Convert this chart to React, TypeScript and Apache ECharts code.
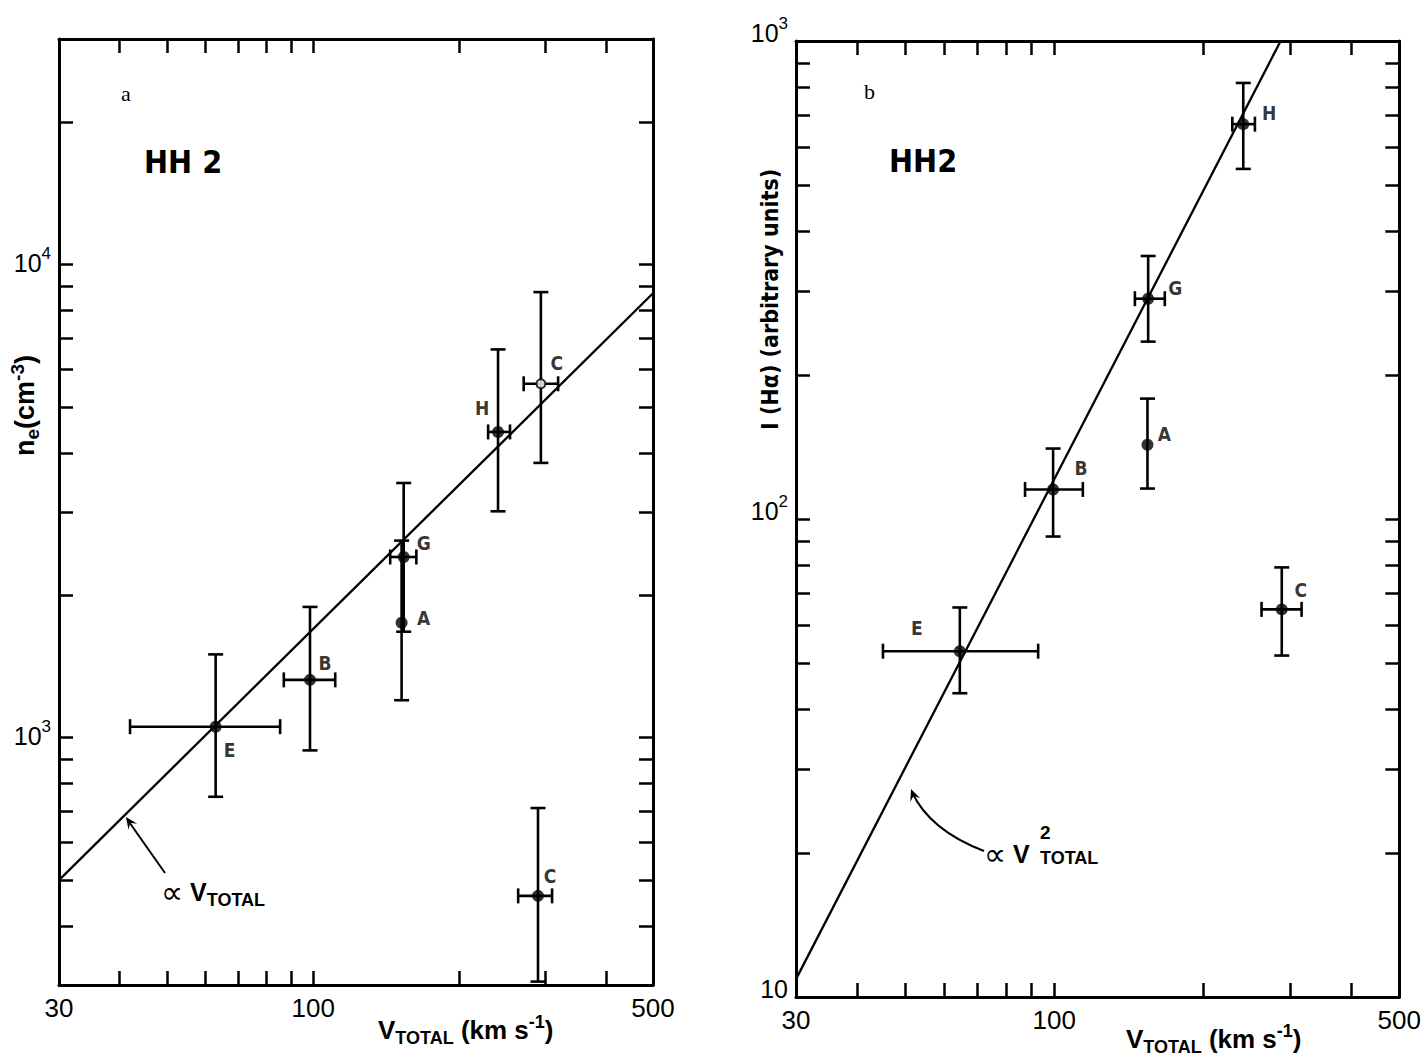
import React, { useEffect, useRef } from "react";
import * as echarts from "echarts";

// ---------- Panel a : electron density vs total velocity ----------
const knotsA = ["E", "B", "A", "G", "H", "C", "C"];
const vA = [63, 98.5, 152, 153.5, 240, 294, 290];
const vLoA = [42, 87, null, 144, 229, 271, 264];
const vHiA = [85.5, 111, null, 163, 254, 319, 310];
const neA = [1055, 1325, 1750, 2410, 4430, 5600, 463];
const neLoA = [750, 940, 1200, 1675, 3010, 3810, 305];
const neHiA = [1500, 1890, 2610, 3455, 6620, 8750, 710];
const openA = [false, false, false, false, false, true, false];
const fitVA = [30, 500];
const fitNA = [500, 8700];

// ---------- Panel b : H-alpha intensity vs total velocity ----------
const knotsB = ["E", "B", "A", "G", "H", "C"];
const vB = [64.4, 99.5, 154.5, 155, 241.5, 289];
const vLoB = [45, 87.3, null, 145.7, 229.5, 263];
const vHiB = [92.8, 114.3, null, 167.5, 255, 317];
const iB = [52.9, 115.3, 143, 289, 670, 64.7];
const iLoB = [43.2, 91.9, 115.8, 235, 540, 51.8];
const iHiB = [65.3, 140.4, 178.6, 355, 817, 79.2];
const fitVB = [30, 287.5];
const fitIB = [10.9, 1000];

// ---------- Axis ticks / labels ----------
const xRange = [30, 500];
const xTicks = [40, 50, 60, 70, 80, 90, 100, 200, 300, 400];
const xLabels = [30, 100, 500];
const yRangeA = [300, 30000];
const yTicksA = [400, 500, 600, 700, 800, 900, 1000, 2000, 3000, 4000, 5000, 6000, 7000, 8000, 9000, 10000, 20000];
const yLabelsA = [1000, 10000];
const yRangeB = [10, 1000];
const yTicksB = [20, 30, 40, 50, 60, 70, 80, 90, 100, 200, 300, 400, 500, 600, 700, 800, 900];
const yLabelsB = [10, 100, 1000];

// ---------- styles (label offsets in px) ----------
const labelOffA = [[14, 23], [15, -17], [22, -5], [20, -14], [-16, -24], [16, -21], [12, -20]];
const labelOffB = [[-43, -23], [28, -21], [17, -11], [27, -11], [26, -11], [19, -19]];

const SANS = "'Liberation Sans Narrow', 'DejaVu Sans Condensed', 'Liberation Sans', sans-serif";
const WIDE = "'Liberation Sans', 'DejaVu Sans', sans-serif";
const PLAIN = "'Liberation Sans', 'DejaVu Sans', sans-serif";
const SERIF = "'Liberation Serif', 'DejaVu Serif', serif";
const SYM = "'DejaVu Sans', 'Liberation Sans', sans-serif";

const n = (v: number | null) => (v == null ? NaN : v);

function exponentLabel(v: number) {
  const e = Math.round(Math.log10(v));
  if (e === 1) return "{b|10}";
  return "{b|10}{s|" + e + "}";
}

const tickStyle = (values: number[]) => ({
  show: true,
  inside: true,
  length: 14,
  customValues: values,
  lineStyle: { color: "#000", width: 2.5 },
});
const lineStyle = { show: true, lineStyle: { color: "#000", width: 3 } };

function xAxes(grid: number) {
  return [
    {
      type: "log",
      gridIndex: grid,
      position: "bottom",
      min: xRange[0],
      max: xRange[1],
      axisLine: lineStyle,
      axisTick: tickStyle(xTicks),
      splitLine: { show: false },
      axisLabel: {
        customValues: xLabels,
        formatter: (v: number) => String(Math.round(v)),
        color: "#000",
        fontSize: 26,
        fontFamily: PLAIN,
        margin: 10,
      },
    },
    {
      type: "log",
      gridIndex: grid,
      position: "top",
      min: xRange[0],
      max: xRange[1],
      axisLine: lineStyle,
      axisTick: tickStyle(xTicks),
      splitLine: { show: false },
      axisLabel: { show: false },
    },
  ];
}

function yAxes(grid: number, range: number[], ticks: number[], labels: number[], raise: number) {
  return [
    {
      type: "log",
      gridIndex: grid,
      position: "left",
      min: range[0],
      max: range[1],
      axisLine: lineStyle,
      axisTick: tickStyle(ticks),
      splitLine: { show: false },
      axisLabel: {
        customValues: labels,
        formatter: exponentLabel,
        color: "#000",
        margin: 8,
        verticalAlign: "middle",
        padding: [0, 0, raise, 0],
        rich: {
          b: { fontSize: 25, fontFamily: PLAIN, color: "#000", lineHeight: 36, verticalAlign: "middle" },
          s: { fontSize: 17, fontFamily: PLAIN, color: "#000", lineHeight: 36, verticalAlign: "top" },
        },
      },
    },
    {
      type: "log",
      gridIndex: grid,
      position: "right",
      min: range[0],
      max: range[1],
      axisLine: lineStyle,
      axisTick: tickStyle(ticks),
      splitLine: { show: false },
      axisLabel: { show: false },
    },
  ];
}

function errorSeries(xIdx: number, yIdx: number, rows: number[][]) {
  return {
    type: "custom",
    xAxisIndex: xIdx,
    yAxisIndex: yIdx,
    data: rows,
    z: 3,
    encode: { x: 0, y: 1 },
    renderItem: (_p: any, api: any) => {
      const x = api.value(0);
      const y = api.value(1);
      const xl = api.value(2);
      const xh = api.value(3);
      const yl = api.value(4);
      const yh = api.value(5);
      const c = api.coord([x, y]);
      const st = { stroke: "#000", lineWidth: 2.6 };
      const cap = 7.5;
      const ch: any[] = [];
      if (!isNaN(yl) && !isNaN(yh)) {
        const lo = api.coord([x, yl]);
        const hi = api.coord([x, yh]);
        ch.push({ type: "line", shape: { x1: c[0], y1: lo[1], x2: c[0], y2: hi[1] }, style: st });
        ch.push({ type: "line", shape: { x1: c[0] - cap, y1: lo[1], x2: c[0] + cap, y2: lo[1] }, style: st });
        ch.push({ type: "line", shape: { x1: c[0] - cap, y1: hi[1], x2: c[0] + cap, y2: hi[1] }, style: st });
      }
      if (!isNaN(xl) && !isNaN(xh)) {
        const lo = api.coord([xl, y]);
        const hi = api.coord([xh, y]);
        ch.push({ type: "line", shape: { x1: lo[0], y1: c[1], x2: hi[0], y2: c[1] }, style: st });
        ch.push({ type: "line", shape: { x1: lo[0], y1: c[1] - cap, x2: lo[0], y2: c[1] + cap }, style: st });
        ch.push({ type: "line", shape: { x1: hi[0], y1: c[1] - cap, x2: hi[0], y2: c[1] + cap }, style: st });
      }
      return { type: "group", children: ch };
    },
  };
}

function arrowHead(tx: number, ty: number, dx: number, dy: number, L = 13, a = 0.42) {
  const ang = Math.atan2(dy, dx);
  return {
    type: "polygon",
    shape: {
      points: [
        [tx - L * Math.cos(ang - a), ty - L * Math.sin(ang - a)],
        [tx, ty],
        [tx - L * Math.cos(ang + a), ty - L * Math.sin(ang + a)],
        [tx - L * 0.55 * Math.cos(ang), ty - L * 0.55 * Math.sin(ang)],
      ],
    },
    style: { fill: "#000" },
    z: 10,
  };
}

const txt = (x: number, y: number, text: string, font: string, size: number, weight = "normal", extra: any = {}) => ({
  type: "text",
  x,
  y,
  z: 10,
  style: { text, fill: "#000", fontFamily: font, fontSize: size, fontWeight: weight, ...extra },
});

const rich = (size: number, sub: number, font = WIDE) => ({
  m: { fontSize: size, fontFamily: font, fontWeight: "bold", fill: "#000", lineHeight: 44, verticalAlign: "middle" },
  q: { fontSize: size + 6, fontFamily: SYM, fill: "#000", lineHeight: 44, verticalAlign: "middle" },
  sb: { fontSize: sub, fontFamily: font, fontWeight: "bold", fill: "#000", lineHeight: 44, verticalAlign: "bottom", padding: [0, 0, 5, 0] },
  sp: { fontSize: sub, fontFamily: font, fontWeight: "bold", fill: "#000", lineHeight: 44, verticalAlign: "top", padding: [5, 0, 0, 0] },
});

export default function App() {
  const ref = useRef<HTMLDivElement>(null);
  useEffect(() => {
    if (!ref.current) return;
    const chart = echarts.init(ref.current, undefined, { renderer: "svg" });

    const rowsA = vA.map((v, i) => [v, neA[i], n(vLoA[i]), n(vHiA[i]), neLoA[i], neHiA[i]]);
    const rowsB = vB.map((v, i) => [v, iB[i], n(vLoB[i]), n(vHiB[i]), iLoB[i], iHiB[i]]);

    const ptLabel = (text: string, off: number[]) => ({
      show: true,
      position: "inside",
      offset: off,
      formatter: text,
      color: "#000",
      fontSize: 19,
      fontWeight: "bold",
      fontFamily: SANS,
    });

    const scatterA = vA.map((v, i) => ({
      value: [v, neA[i]],
      symbol: "circle",
      symbolSize: openA[i] ? 9 : 12,
      itemStyle: openA[i] ? { color: "#fff", borderColor: "#000", borderWidth: 2 } : { color: "#000" },
      label: ptLabel(knotsA[i], labelOffA[i]),
    }));
    const scatterB = vB.map((v, i) => ({
      value: [v, iB[i]],
      symbol: "circle",
      symbolSize: 12,
      itemStyle: { color: "#000" },
      label: ptLabel(knotsB[i], labelOffB[i]),
    }));

    const option: any = {
      animation: false,
      backgroundColor: "#fff",
      grid: [
        { left: 59, top: 39, width: 594, height: 946 },
        { left: 796, top: 41, width: 607, height: 956 },
      ],
      xAxis: [...xAxes(0), ...xAxes(1)],
      yAxis: [...yAxes(0, yRangeA, yTicksA, yLabelsA, 4), ...yAxes(1, yRangeB, yTicksB, yLabelsB, 16)],
      series: [
        {
          type: "line",
          xAxisIndex: 0,
          yAxisIndex: 0,
          data: fitVA.map((v, i) => [v, fitNA[i]]),
          showSymbol: false,
          lineStyle: { color: "#000", width: 2.3 },
          z: 2,
        },
        {
          type: "line",
          xAxisIndex: 2,
          yAxisIndex: 2,
          data: fitVB.map((v, i) => [v, fitIB[i]]),
          showSymbol: false,
          lineStyle: { color: "#000", width: 2.3 },
          z: 2,
        },
        errorSeries(0, 0, rowsA),
        errorSeries(2, 2, rowsB),
        { type: "scatter", xAxisIndex: 0, yAxisIndex: 0, data: scatterA, z: 5 },
        { type: "scatter", xAxisIndex: 2, yAxisIndex: 2, data: scatterB, z: 5 },
      ],
      graphic: [
        // panel letters
        txt(121, 82, "a", SERIF, 22),
        txt(864, 80, "b", SERIF, 22),
        // HH 2 titles
        txt(144, 146, "HH 2", SANS, 32, "bold"),
        txt(889, 145, "HH2", SANS, 32, "bold"),
        // panel a annotation
        { type: "line", shape: { x1: 165, y1: 873, x2: 127, y2: 819 }, style: { stroke: "#000", lineWidth: 2 }, z: 10 },
        arrowHead(126, 817, -38, -54),
        {
          type: "text",
          x: 161,
          y: 870,
          z: 10,
          style: { text: "{q|∝}{m| V}{sb|TOTAL}", rich: rich(25, 18) },
        },
        // panel b annotation (curved arrow)
        {
          type: "bezierCurve",
          shape: { x1: 984, y1: 851, cpx1: 950, cpy1: 838, cpx2: 924, cpy2: 818, x2: 912, y2: 792 },
          style: { stroke: "#000", lineWidth: 2, fill: null },
          z: 10,
        },
        arrowHead(911, 789, -10, -26),
        {
          type: "text",
          x: 984,
          y: 832,
          z: 10,
          style: { text: "{q|∝}{m| V}", rich: rich(25, 18) },
        },
        txt(1040, 823, "2", WIDE, 19, "bold"),
        txt(1040, 849, "TOTAL", WIDE, 18, "bold"),
        // x-axis titles
        {
          type: "text",
          x: 378,
          y: 1008,
          z: 10,
          style: { text: "{m|V}{sb|TOTAL}{m| (km s}{sp|-1}{m|)}", rich: rich(26, 18) },
        },
        {
          type: "text",
          x: 1126,
          y: 1017,
          z: 10,
          style: { text: "{m|V}{sb|TOTAL}{m| (km s}{sp|-1}{m|)}", rich: rich(26, 18) },
        },
        // y-axis titles (rotated)
        {
          type: "text",
          x: 3,
          y: 456,
          rotation: Math.PI / 2,
          z: 10,
          style: { text: "{m|n}{sb|e}{m|(cm}{sp|-3}{m|)}", rich: rich(27, 19) },
        },
        {
          type: "text",
          x: 750,
          y: 430,
          rotation: Math.PI / 2,
          z: 10,
          style: {
            text: "{m|I (Hα) (arbitrary units)}",
            rich: { m: { fontSize: 23, fontFamily: SANS, fontWeight: "bold", fill: "#000", lineHeight: 40, verticalAlign: "middle" } },
          },
        },
      ],
    };
    chart.setOption(option);
    return () => chart.dispose();
  }, []);
  return (
    <div
      ref={ref}
      style={{ position: "fixed", left: 0, top: 0, width: 1424, height: 1058, background: "#fff" }}
    />
  );
}
